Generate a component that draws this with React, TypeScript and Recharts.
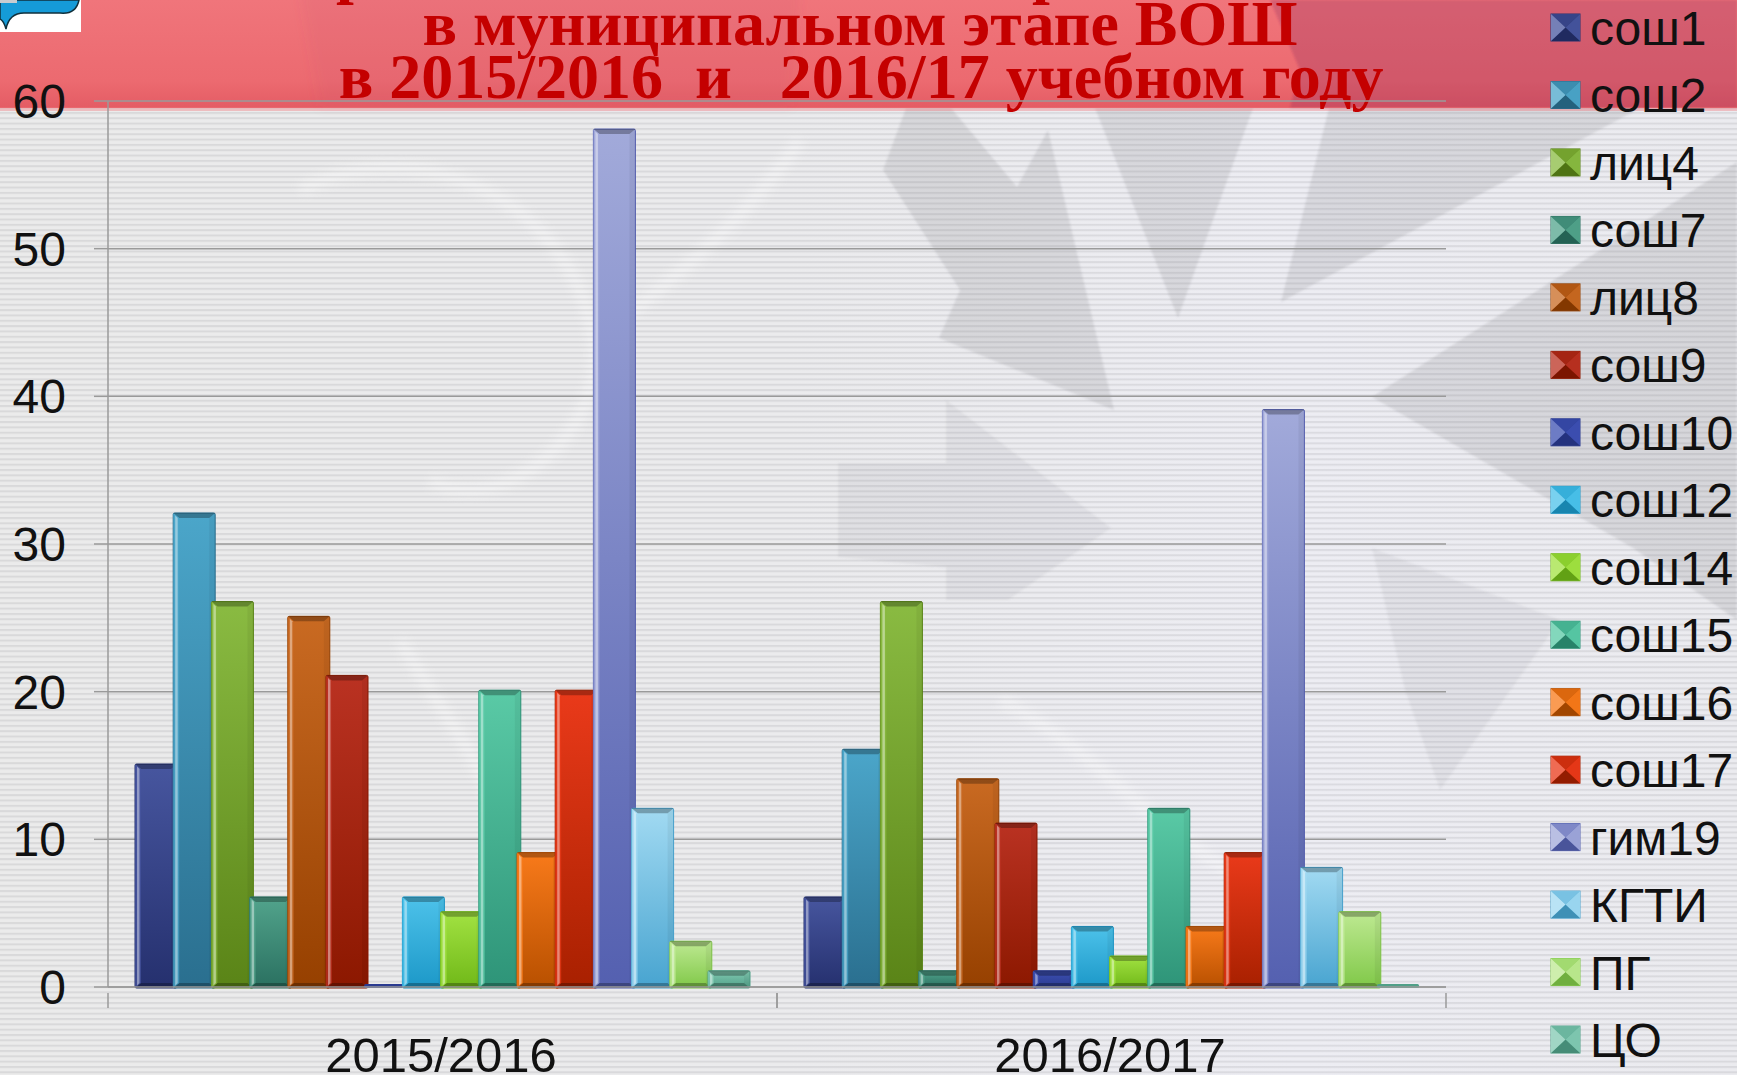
import React from 'react';
import { BarChart, Bar, XAxis, YAxis, CartesianGrid, Legend } from 'recharts';

const categories = ['2015/2016', '2016/2017'];
const schools = ['сош1', 'сош2', 'лиц4', 'сош7', 'лиц8', 'сош9', 'сош10', 'сош12', 'сош14', 'сош15', 'сош16', 'сош17', 'гим19', 'КГТИ', 'ПГ', 'ЦО'];
const values2015 = [15, 32, 26, 6, 25, 21, 0, 6, 5, 20, 9, 20, 58, 12, 3, 1];
const values2016 = [6, 16, 26, 1, 14, 11, 1, 4, 2, 12, 4, 9, 39, 8, 5, 0];
const yTicks = [0, 10, 20, 30, 40, 50, 60];

const topColors = ['#47569f', '#4ba6ca', '#8abb42', '#52a48c', '#c96a22', '#ba3222', '#3d50b2', '#4dc2ea', '#a2e242', '#5acaa6', '#f87a1a', '#ea3a1a', '#a2aada', '#a2daf2', '#bee992', '#82c9b2'];
const bottomColors = ['#25306e', '#2a6f8f', '#5a8417', '#2a7060', '#964000', '#8c1800', '#2a3a90', '#1c98c8', '#70b818', '#2e9478', '#b85000', '#a82000', '#5460b0', '#48a4d0', '#80c848', '#50a088'];

const chartData = categories.map((category, c) => {
  const row: Record<string, string | number> = { category };
  schools.forEach((s, i) => {
    row[s] = (c === 0 ? values2015 : values2016)[i];
  });
  return row;
});

const SANS = '"Liberation Sans", Arial, sans-serif';
const SERIF = '"Liberation Serif", "Times New Roman", serif';
const AXIS_COLOR = '#9a9a9a';

// slide background: stripes, grey star fragments, red header with the title
const Backdrop = () => (
  <svg width={1737} height={1075} style={{ position: 'absolute', left: 0, top: 0 }}>
    <defs>
      <pattern id="stripes" width="10" height="5.33" patternUnits="userSpaceOnUse">
        <rect width="10" height="2" y="0" fill="rgba(105,105,115,0.14)" />
      </pattern>
      <linearGradient id="banner" x1="0" y1="0" x2="0" y2="1">
        <stop offset="0%" stopColor="#f0757b" />
        <stop offset="75%" stopColor="#ec6a70" />
        <stop offset="100%" stopColor="#e45c64" />
      </linearGradient>
      <linearGradient id="paper" x1="0" y1="0" x2="1" y2="0">
        <stop offset="0%" stopColor="#ebebeb" />
        <stop offset="45%" stopColor="#ebebed" />
        <stop offset="75%" stopColor="#ededf3" />
        <stop offset="100%" stopColor="#ebebef" />
      </linearGradient>
      <filter id="soft"><feGaussianBlur stdDeviation="5" /></filter>
      <filter id="edge"><feGaussianBlur stdDeviation="1.2" /></filter>
      <filter id="wide"><feGaussianBlur stdDeviation="6" /></filter>
    </defs>
    <rect width={1737} height={1075} fill="url(#paper)" />
    <g fill="rgba(140,140,145,0.22)" filter="url(#edge)">
      <polygon points="906,108 951,108 1017,187 1048,130 1114,410 939,338 960,290 883,170" />
      <polygon points="1095,108 1253,108 1178,318" />
      <polygon points="1329,108 1640,108 1281,302" />
      <polygon points="1372,397 1737,162 1737,620 1633,548" />
    </g>
    <g fill="rgba(140,140,145,0.12)" filter="url(#edge)">
      <polygon points="838,463 946,463 946,400 1111,528 1008,600 946,600 946,567 838,557" />
      <polygon points="1372,548 1560,620 1440,790 1405,690" />
    </g>
    <g fill="none" stroke="#ffffff" strokeWidth="14" opacity="0.35" filter="url(#soft)">
      <path d="M300,190 C420,130 560,200 590,320 C620,430 500,520 430,480" />
      <path d="M400,640 C470,760 520,800 480,880" />
      <path d="M620,320 C700,260 760,200 800,140" />
      <path d="M1000,700 C1120,760 1180,880 1320,900" />
    </g>
    <rect width={1737} height={1075} fill="url(#stripes)" />
    <rect width={1737} height={108} fill="url(#banner)" />
    <g filter="url(#wide)">
      <polygon points="300,-10 800,-10 790,106 320,106" fill="rgba(190,80,110,0.1)" />
    </g>
    <polygon points="1270,0 1737,0 1737,108 1290,108 1300,70" fill="rgba(150,40,90,0.3)" filter="url(#edge)" />
    <rect width={1737} height={4} y={107} fill="rgba(240,120,125,0.4)" />
    <g fontFamily={SERIF} fontWeight={700} fontSize={64} fill="#c40000">
      <text x={336} y={-9}>р</text>
      <text x={1032} y={-9}>р</text>
      <text x={860} y={45} textAnchor="middle">в муниципальном этапе ВОШ</text>
      <text x={861} y={98} textAnchor="middle">{'в 2015/2016\u00A0\u00A0и\u00A0\u00A0\u00A02016/17 учебном году'}</text>
    </g>
    <rect width={81} height={32} fill="#ffffff" />
    <path d="M0,0 L79,0 C77,10 70,14 60,13 L24,13 C14,13 8,19 6,29 C4,22 2,20 0,19 Z" fill="#159bd8" stroke="#10303c" strokeWidth={1.5} />
    <rect width={17} height={3} fill="#c8ccd0" />
  </svg>
);

const BevelBar = (props: any) => {
  const { x, y, width, height, colorIndex } = props;
  const top = topColors[colorIndex];
  const bottom = bottomColors[colorIndex];
  if (height < 4) {
    return <rect x={x} y={y - 3} width={width} height={4} rx={1.5} fill={bottom} />;
  }
  // the border sits just outside the value, as in the original bevel style
  const yt = y - 1.5;
  const h = height + 2.5;
  const bx = Math.min(6, width / 4);
  const by = Math.min(5, h / 3);
  const r = x + width;
  const b = yt + h;
  return (
    <g>
      <rect x={x} y={yt} width={width} height={h} rx={1.5} fill={`url(#barFill${colorIndex})`} stroke={bottom} strokeWidth={1} />
      <polygon points={`${x},${yt} ${r},${yt} ${r - bx},${yt + by} ${x + bx},${yt + by}`} fill="#000" opacity={0.28} />
      <polygon points={`${x},${b} ${r},${b} ${r - bx},${b - by} ${x + bx},${b - by}`} fill="#000" opacity={0.28} />
      <polygon points={`${x},${yt} ${x + bx},${yt + by} ${x + bx},${b - by} ${x},${b}`} fill={top} opacity={0.7} />
      <polygon points={`${x + 2},${yt + by / 2} ${x + bx - 1.5},${yt + by} ${x + bx - 1.5},${b - by} ${x + 2},${b - by / 2}`} fill="#fff" opacity={0.42} />
      <polygon points={`${r},${yt} ${r - bx},${yt + by} ${r - bx},${b - by} ${r},${b}`} fill="#000" opacity={0.05} />
    </g>
  );
};

const CategoryTick = (props: any) => {
  const { x, y, payload } = props;
  const half = 334.5;
  return (
    <g>
      <line x1={x - half} x2={x - half} y1={y} y2={y + 15} stroke={AXIS_COLOR} strokeWidth={1.5} />
      <line x1={x + half} x2={x + half} y1={y} y2={y + 15} stroke={AXIS_COLOR} strokeWidth={1.5} />
      <text x={x - 1.5} y={y + 79} textAnchor="middle" fontFamily={SANS} fontSize={49} fill="#111">
        {payload.value}
      </text>
    </g>
  );
};

const LegendIcon = ({ i, y }: { i: number; y: number }) => {
  const x0 = 0;
  const x1 = 29;
  const y0 = y - 14;
  const y1 = y + 13;
  const mx = 14.5;
  const my = y - 0.5;
  return (
    <g>
      <rect x={x0} y={y0} width={29} height={27} fill={bottomColors[i]} stroke={bottomColors[i]} strokeWidth={1} />
      <polygon points={`${x0},${y0} ${x1},${y0} ${mx},${my}`} fill={topColors[i]} opacity={0.55} />
      <polygon points={`${x0},${y1} ${x1},${y1} ${mx},${my}`} fill="#000" opacity={0.12} />
      <polygon points={`${x1},${y0} ${mx},${my} ${x1},${y1}`} fill={topColors[i]} opacity={0.9} />
      <polygon points={`${x0},${y0} ${mx},${my} ${x0},${y1}`} fill={topColors[i]} />
      <polygon points={`${x0},${y0} ${mx},${my} ${x0},${y1}`} fill="#fff" opacity={0.25} />
    </g>
  );
};

const renderLegend = (props: any) => (
  <svg width={186} height={1075} style={{ position: 'absolute', left: 0, top: 0, overflow: 'visible' }}>
    {props.payload.map((entry: any, i: number) => {
      const y = 28 + i * 67.47;
      return (
        <g key={entry.value}>
          <LegendIcon i={i} y={y} />
          <text x={39} y={y + 17} fontFamily={SANS} fontSize={48} fill="#111">
            {entry.value}
          </text>
        </g>
      );
    })}
  </svg>
);

export default function App() {
  return (
    <div style={{ position: 'absolute', left: 0, top: 0, width: 1737, height: 1075, overflow: 'hidden' }}>
      <Backdrop />
      <div style={{ position: 'absolute', left: 0, top: 0 }}>
        <BarChart
          width={1737}
          height={1075}
          data={chartData}
          margin={{ top: 101, right: 291, bottom: 0, left: 0 }}
          barSize={42}
          barGap={-3.8}
        >
          <defs>
            {schools.map((s, i) => (
              <linearGradient key={s} id={`barFill${i}`} x1="0" y1="0" x2="0" y2="1">
                <stop offset="0%" stopColor={topColors[i]} />
                <stop offset="100%" stopColor={bottomColors[i]} />
              </linearGradient>
            ))}
          </defs>
          <CartesianGrid horizontal vertical={false} stroke={AXIS_COLOR} strokeWidth={1.5} />
          <XAxis
            dataKey="category"
            height={88}
            tickLine={false}
            tickMargin={0}
            tick={<CategoryTick />}
            axisLine={{ stroke: AXIS_COLOR, strokeWidth: 1.5 }}
          />
          <YAxis
            width={108}
            domain={[0, 60]}
            ticks={yTicks}
            interval={0}
            tickSize={14}
            tickMargin={28}
            tick={{ fontFamily: SANS, fontSize: 48, fill: '#111' }}
            tickLine={{ stroke: AXIS_COLOR, strokeWidth: 1.5 }}
            axisLine={{ stroke: AXIS_COLOR, strokeWidth: 1.5 }}
          />
          <Legend
            content={renderLegend}
            itemSorter={null}
            layout="vertical"
            align="right"
            verticalAlign="top"
            wrapperStyle={{ position: 'absolute', left: 1551, top: 0, right: 'auto', width: 0, height: 0 }}
          />
          {schools.map((s, i) => (
            <Bar
              key={s}
              dataKey={s}
              name={s}
              fill={bottomColors[i]}
              isAnimationActive={false}
              shape={(p: any) => <BevelBar {...p} colorIndex={i} />}
            />
          ))}
        </BarChart>
      </div>
    </div>
  );
}
